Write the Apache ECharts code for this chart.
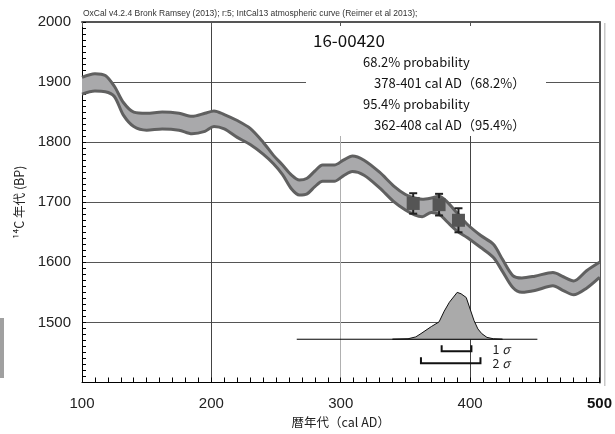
<!DOCTYPE html>
<html><head><meta charset="utf-8">
<script src="https://cdn.jsdelivr.net/npm/echarts@6/dist/echarts.min.js"></script>
<style>html,body{margin:0;padding:0;background:#fff}#c{width:615px;height:434px}</style>
</head><body><div id="c"></div>
<script>
// Calibration curve (IntCal13) band, cal AD vs 14C BP
const years   = [100,110,118,125,132,140,150,162,175,185,195,202,210,220,230,240,248,255,262,268,274,280,286,295,302,309,318,330,341,350,357,363,370,376,382,390,398,408,418,425,433,440,450,464,472,480,490,500];
const upperBP = [1908,1914,1911,1893,1866,1850,1848,1850,1848,1843,1848,1852,1846,1836,1823,1800,1778,1762,1745,1737,1740,1752,1762,1762,1770,1777,1770,1750,1727,1713,1707,1705,1707,1710,1701,1682,1663,1645,1630,1605,1578,1574,1577,1583,1576,1569,1586,1600];
const lowerBP = [1880,1885,1884,1876,1845,1826,1820,1822,1820,1814,1818,1826,1822,1808,1796,1780,1764,1746,1722,1712,1714,1726,1735,1735,1744,1751,1745,1724,1701,1687,1679,1676,1683,1680,1668,1652,1641,1625,1608,1585,1558,1550,1553,1561,1553,1546,1557,1575];
// Measured samples
const sampleYears = [356, 376, 391];
const sampleBP    = [1698, 1696, 1670];
const sampleErr   = [17, 18, 20];
// Calibrated probability distribution (relative)
const distYears = [340,352,358,362,370,376,380,384,390,393,397,403,406,409,413,418,425];
const distProb  = [0,0.01,0.05,0.12,0.27,0.37,0.6,0.79,1.0,0.97,0.89,0.40,0.22,0.12,0.04,0.01,0];
const distRange = [266, 452];
const sigma1 = [378, 401];
const sigma2 = [362, 408];
// Texts
const sampleName = '16-00420';
const resultLines = ['68.2% probability','378-401 cal AD（68.2%）','95.4% probability','362-408 cal AD（95.4%）'];
const headerText = 'OxCal v4.2.4 Bronk Ramsey (2013); r:5; IntCal13 atmospheric curve (Reimer et al 2013);';

const DIST_BASE = 1472, DIST_H = 78;
const NUM_FONT = '"Liberation Sans", Arial, sans-serif';
const JP_FONT = '"Noto Sans CJK JP", "Noto Sans", sans-serif';
const SMOOTH = 0.3;

const chart = echarts.init(document.getElementById('c'), null, {renderer:'canvas'});
const option = {
  animation: false,
  backgroundColor: '#fff',
  grid: {left: 82, right: 12, top: 22, bottom: 48},
  xAxis: [{
    type: 'value', min: 100, max: 500, interval: 100, position: 'bottom',
    name: '暦年代（cal AD）', nameLocation: 'middle', nameGap: 34,
    nameTextStyle: {fontFamily: JP_FONT, fontSize: 12.5, color: '#222'},
    axisLine: {show: true, onZero: false, lineStyle: {color: '#000', width: 1}},
    axisTick: {show: true, inside: true, length: 5, lineStyle: {color: '#000'}},
    minorTick: {show: true, splitNumber: 10, length: 5, lineStyle: {color: '#000'}},
    axisLabel: {fontFamily: NUM_FONT, fontSize: 15, color: '#222', margin: 14,
      formatter: v => v === 500 ? '{b|500}' : String(v),
      rich: {b: {fontFamily: NUM_FONT, fontSize: 15, fontWeight: 'bold', color: '#111'}}},
    splitLine: {show: true, lineStyle: {color: ['#444','#444','#b0b0b0','#444','#444'], width: 1}}
  }, {
    type: 'value', min: 100, max: 500, interval: 100, position: 'top',
    axisLine: {show: true, onZero: false, lineStyle: {color: '#555', width: 2}},
    axisTick: {show: true, inside: true, length: 5, lineStyle: {color: '#555'}},
    axisLabel: {show: false}, splitLine: {show: false}
  }],
  yAxis: [{
    type: 'value', min: 1400, max: 2000, interval: 100, position: 'left',
    name: '¹⁴C 年代 (BP)', nameLocation: 'middle', nameGap: 56, nameRotate: 90,
    nameTextStyle: {fontFamily: JP_FONT, fontSize: 12.5, color: '#222'},
    axisLine: {show: true, onZero: false, lineStyle: {color: '#000', width: 1}},
    axisTick: {show: true, inside: true, length: 4, lineStyle: {color: '#000'}},
    minorTick: {show: true, splitNumber: 10, length: 4, lineStyle: {color: '#000'}},
    axisLabel: {fontFamily: NUM_FONT, fontSize: 15, color: '#222', margin: 11,
      formatter: v => v === 1400 ? '' : String(v)},
    splitLine: {show: true, lineStyle: {color: '#555', width: 1}}
  }, {
    type: 'value', min: 1400, max: 2000, interval: 100, position: 'right',
    axisLine: {show: true, onZero: false, lineStyle: {color: '#555', width: 2}},
    axisTick: {show: false}, axisLabel: {show: false}, splitLine: {show: false}
  }],
  graphic: {elements: [
    {type: 'rect', shape: {x: 306, y: 26, width: 240, height: 110}, style: {fill: '#fff'}, z: 1, silent: true},
    {type: 'rect', shape: {x: 0, y: 318, width: 4, height: 60}, style: {fill: '#a0a0a0'}, z: 1, silent: true},
    {type: 'rect', shape: {x: 604, y: 23, width: 1.5, height: 363}, style: {fill: '#c8c8c8'}, z: 1, silent: true},
    {type: 'text', x: 83, y: 14, style: {text: headerText, fontFamily: NUM_FONT, fontSize: 8.5, fill: '#333', verticalAlign: 'middle'}, z: 5},
    {type: 'text', x: 313, y: 41, style: {text: sampleName, fontFamily: JP_FONT, fontSize: 17, fill: '#111', verticalAlign: 'middle'}, z: 5},
    {type: 'text', x: 363, y: 62, style: {text: resultLines[0], fontFamily: JP_FONT, fontSize: 13, fill: '#111', verticalAlign: 'middle'}, z: 5},
    {type: 'text', x: 374, y: 83, style: {text: resultLines[1], fontFamily: JP_FONT, fontSize: 13, fill: '#111', verticalAlign: 'middle'}, z: 5},
    {type: 'text', x: 363, y: 104, style: {text: resultLines[2], fontFamily: JP_FONT, fontSize: 13, fill: '#111', verticalAlign: 'middle'}, z: 5},
    {type: 'text', x: 374, y: 125, style: {text: resultLines[3], fontFamily: JP_FONT, fontSize: 13, fill: '#111', verticalAlign: 'middle'}, z: 5}
  ]},
  series: [
    {
      type: 'custom', z: 3, data: [0], clip: true,
      renderItem: (params, api) => {
        const top = years.map((x, i) => api.coord([x, upperBP[i]]));
        const bot = years.map((x, i) => api.coord([x, lowerBP[i]])).reverse();
        return {type: 'polygon', shape: {points: top.concat(bot), smooth: SMOOTH}, style: {fill: '#a9a9ab'}};
      }
    },
    {
      type: 'line', z: 4, data: years.map((y, i) => [y, upperBP[i]]),
      showSymbol: false, smooth: SMOOTH, clip: true,
      lineStyle: {color: '#606060', width: 3}
    },
    {
      type: 'line', z: 4, data: years.map((y, i) => [y, lowerBP[i]]),
      showSymbol: false, smooth: SMOOTH, clip: true,
      lineStyle: {color: '#606060', width: 3}
    },
    {
      type: 'line', z: 5, data: distRange.map(x => [x, DIST_BASE]),
      showSymbol: false, lineStyle: {color: '#000', width: 1}
    },
    {
      type: 'custom', z: 6, data: [0],
      renderItem: (params, api) => {
        const pts = distYears.map((x, i) => api.coord([x, DIST_BASE + distProb[i] * DIST_H]));
        return {type: 'polygon', shape: {points: pts}, style: {fill: '#aaaaaa', stroke: '#111', lineWidth: 1}};
      }
    },
    {
      type: 'custom', z: 6, data: [0],
      renderItem: (params, api) => {
        const b = api.coord([0, DIST_BASE])[1];
        const mk = (r, y0, y1) => {
          const xa = api.coord([r[0], DIST_BASE])[0], xb = api.coord([r[1], DIST_BASE])[0];
          return {type: 'polyline', shape: {points: [[xa, y0], [xa, y1], [xb, y1], [xb, y0]]}, style: {stroke: '#111', lineWidth: 2, fill: null}};
        };
        const lx = api.coord([sigma2[1], DIST_BASE])[0] + 12;
        const rich = {i: {fontStyle: 'italic', fontFamily: JP_FONT, fontSize: 12.5, fill: '#222'}};
        return {type: 'group', children: [
          mk(sigma1, b + 6, b + 12),
          mk(sigma2, b + 18, b + 24),
          {type: 'text', x: lx, y: b + 10, style: {text: '1 {i|σ}', rich, fontFamily: JP_FONT, fontSize: 12.5, fill: '#222', verticalAlign: 'middle'}},
          {type: 'text', x: lx, y: b + 24, style: {text: '2 {i|σ}', rich, fontFamily: JP_FONT, fontSize: 12.5, fill: '#222', verticalAlign: 'middle'}}
        ]};
      }
    },
    {
      type: 'custom', z: 7,
      data: sampleYears.map((x, i) => [x, sampleBP[i], sampleErr[i]]),
      renderItem: (params, api) => {
        const x = api.value(0), y = api.value(1), e = api.value(2);
        const c = api.coord([x, y]);
        const top = api.coord([x, y + e])[1], bot = api.coord([x, y - e])[1];
        return {type: 'group', children: [
          {type: 'line', shape: {x1: c[0], y1: top, x2: c[0], y2: bot}, style: {stroke: '#222', lineWidth: 2}},
          {type: 'line', shape: {x1: c[0] - 4, y1: top, x2: c[0] + 4, y2: top}, style: {stroke: '#222', lineWidth: 2}},
          {type: 'line', shape: {x1: c[0] - 4, y1: bot, x2: c[0] + 4, y2: bot}, style: {stroke: '#222', lineWidth: 2}},
          {type: 'rect', shape: {x: c[0] - 6.5, y: c[1] - 6.5, width: 13, height: 13}, style: {fill: '#555'}}
        ]};
      }
    }
  ]
};
chart.setOption(option);
</script></body></html>
